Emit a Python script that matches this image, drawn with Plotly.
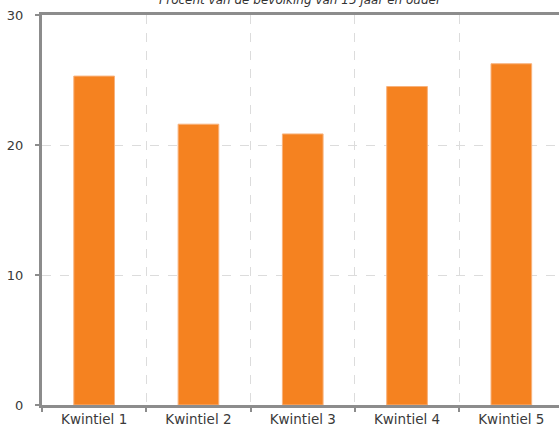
import plotly.graph_objects as go

categories = ["Kwintiel 1", "Kwintiel 2", "Kwintiel 3", "Kwintiel 4", "Kwintiel 5"]
values = [25.3, 21.6, 20.85, 24.5, 26.25]
y_ticks = [0, 10, 20, 30]
title_text = "Procent van de bevolking van 15 jaar en ouder"

font_family = "DejaVu Sans"
axis_color = "#8c8c8c"
grid_color = "#dcdcdc"

fig = go.Figure()
fig.add_trace(go.Bar(
    x=categories, y=values,
    marker=dict(color="#f58220", line=dict(color="#f8b27c", width=1)),
    width=0.39,
    hoverinfo="x+y",
))

fig.update_layout(
    width=559, height=430,
    margin=dict(l=42, r=0, t=15, b=25),
    plot_bgcolor="white", paper_bgcolor="white",
    showlegend=False,
    font=dict(family=font_family, size=13, color="#333333"),
    xaxis=dict(
        type="category",
        range=[-0.5, 4.457],
        tickson="boundaries",
        ticks="outside", ticklen=4, tickwidth=2, tickcolor=axis_color,
        showline=True, linecolor=axis_color, linewidth=3, mirror=True,
        showgrid=True, gridcolor=grid_color, griddash="dash", gridwidth=1,
        tickfont=dict(size=13.5, color="#3a3a3a"),
        automargin=False,
    ),
    yaxis=dict(
        range=[0, 30],
        tickvals=y_ticks,
        ticks="outside", ticklen=4, tickwidth=2, tickcolor=axis_color,
        showline=True, linecolor=axis_color, linewidth=3,
        showgrid=True, gridcolor=grid_color, griddash="dash", gridwidth=1,
        zeroline=False,
        ticklabelstandoff=9,
        tickfont=dict(size=13, color="#3a3a3a"),
        automargin=False,
    ),
    annotations=[dict(
        text=title_text, xref="paper", yref="paper", x=0.5, y=1,
        yshift=15, yanchor="middle", xanchor="center", showarrow=False,
        font=dict(family=font_family, size=12, color="#333333", style="italic"),
    )],
)

fig.write_html(
    "out.html",
    config={"displayModeBar": False},
    post_script="document.body.style.margin='0';document.body.style.overflow='hidden';",
)
